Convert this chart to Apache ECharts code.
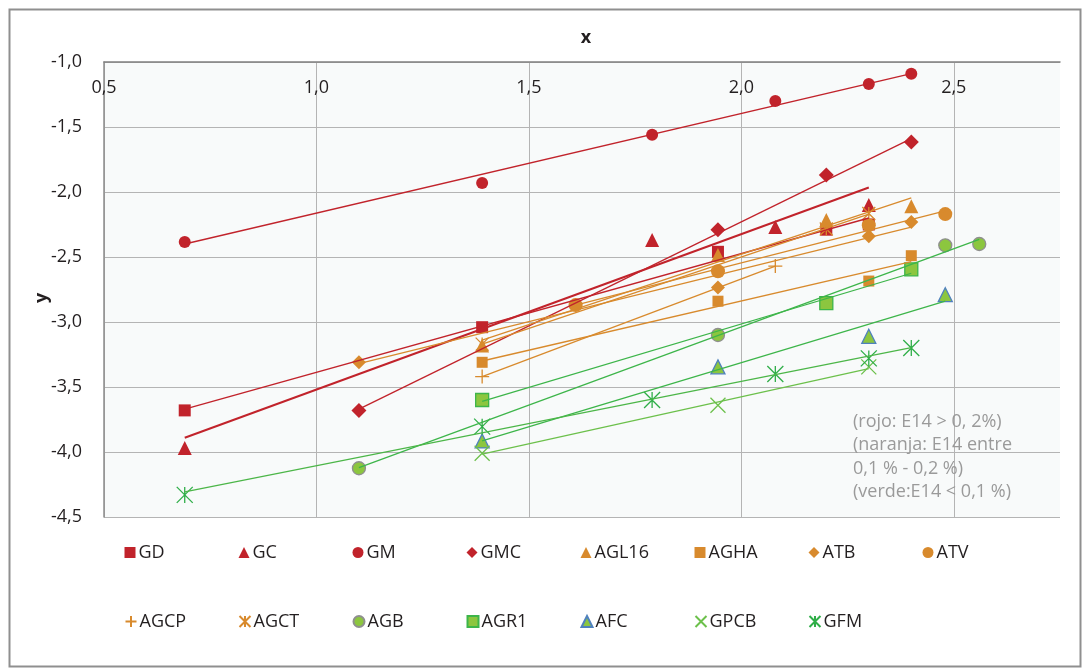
<!DOCTYPE html>
<html>
<head>
<meta charset="utf-8">
<script src="https://cdn.jsdelivr.net/npm/echarts@6/dist/echarts.min.js"></script>
<style>
  html, body { margin: 0; padding: 0; background: #ffffff; }
  #chart { width: 1086px; height: 671px; }
</style>
</head>
<body>
<div id="chart"></div>
<script>
// ---- tick labels ----
const xTickValues = [0.5, 1.0, 1.5, 2.0, 2.5];
const xTickLabels = ['0,5', '1,0', '1,5', '2,0', '2,5'];
const yTickValues = [-1.0, -1.5, -2.0, -2.5, -3.0, -3.5, -4.0, -4.5];
const yTickLabels = ['-1,0', '-1,5', '-2,0', '-2,5', '-3,0', '-3,5', '-4,0', '-4,5'];

// ---- series names (legend order) ----
const seriesNames = ['GD', 'GC', 'GM', 'GMC', 'AGL16', 'AGHA', 'ATB', 'ATV',
                     'AGCP', 'AGCT', 'AGB', 'AGR1', 'AFC', 'GPCB', 'GFM'];

// ---- data points [x, y] ----
const GD    = [[0.69, -3.68], [1.39, -3.04], [1.945, -2.46], [2.20, -2.29], [2.30, -2.25]];
const GC    = [[0.69, -3.97], [1.79, -2.37], [2.08, -2.27], [2.30, -2.10]];
const GM    = [[0.69, -2.385], [1.39, -1.93], [1.79, -1.56], [2.08, -1.30], [2.30, -1.17], [2.40, -1.09]];
const GMC   = [[1.10, -3.68], [1.945, -2.29], [2.20, -1.87], [2.40, -1.615]];
const AGL16 = [[1.39, -3.18], [1.945, -2.485], [2.20, -2.215], [2.40, -2.11]];
const AGHA  = [[1.39, -3.31], [1.945, -2.84], [2.30, -2.685], [2.40, -2.49]];
const ATB   = [[1.10, -3.31], [1.61, -2.87], [1.945, -2.735], [2.30, -2.34], [2.40, -2.23]];
const ATV   = [[1.61, -2.87], [1.945, -2.61], [2.30, -2.255], [2.48, -2.17]];
const AGCP  = [[1.39, -3.42], [2.08, -2.57]];
const AGCT  = [[1.39, -3.17], [2.20, -2.285], [2.30, -2.165]];
const AGB   = [[1.10, -4.125], [1.945, -3.10], [2.48, -2.41], [2.56, -2.40]];
const AGR1  = [[1.39, -3.60], [2.20, -2.855], [2.40, -2.595]];
const AFC   = [[1.39, -3.915], [1.945, -3.345], [2.30, -3.11], [2.48, -2.79]];
const GPCB  = [[1.39, -4.01], [1.945, -3.64], [2.30, -3.345]];
const GFM   = [[0.69, -4.33], [1.39, -3.805], [1.79, -3.60], [2.08, -3.40], [2.30, -3.28], [2.40, -3.20]];

// ---- trend line end points [x, y] ----
const GD_trend    = [[0.69, -3.67], [2.30, -2.20]];
const GC_trend    = [[0.69, -3.89], [2.30, -1.965]];
const GM_trend    = [[0.69, -2.40], [2.40, -1.09]];
const GMC_trend   = [[1.10, -3.67], [2.40, -1.59]];
const AGL16_trend = [[1.39, -3.14], [2.40, -2.045]];
const AGHA_trend  = [[1.39, -3.30], [2.40, -2.535]];
const ATB_trend   = [[1.10, -3.32], [2.40, -2.27]];
const ATV_trend   = [[1.61, -2.87], [2.48, -2.145]];
const AGCP_trend  = [[1.39, -3.42], [2.08, -2.57]];
const AGCT_trend  = [[1.39, -3.17], [2.30, -2.17]];
const AGB_trend   = [[1.10, -4.12], [2.56, -2.365]];
const AGR1_trend  = [[1.39, -3.61], [2.40, -2.625]];
const AFC_trend   = [[1.39, -3.915], [2.48, -2.84]];
const GPCB_trend  = [[1.39, -4.017], [2.30, -3.358]];
const GFM_trend   = [[0.69, -4.306], [2.40, -3.197]];

const pointData = { GD, GC, GM, GMC, AGL16, AGHA, ATB, ATV, AGCP, AGCT, AGB, AGR1, AFC, GPCB, GFM };
const trendData = {
  GD: GD_trend, GC: GC_trend, GM: GM_trend, GMC: GMC_trend, AGL16: AGL16_trend,
  AGHA: AGHA_trend, ATB: ATB_trend, ATV: ATV_trend, AGCP: AGCP_trend, AGCT: AGCT_trend,
  AGB: AGB_trend, AGR1: AGR1_trend, AFC: AFC_trend, GPCB: GPCB_trend, GFM: GFM_trend
};

// ---- styles ----
const RED = '#c1232b';
const ORANGE = '#d88a2d';
const GREEN = '#3db54a';
const LGREEN = '#6cc04b';
const FILLG = '#8cc63f';

const PLUS = 'path://M0,10L20,10M10,0L10,20';
const CROSS = 'path://M0,0L20,20M20,0L0,20';
const STAR = 'path://M0,0L20,20M20,0L0,20M10,0L10,20';

const styles = {
  GD:    { symbol: 'rect', size: 12, item: { color: RED }, line: RED, lw: 1.3 },
  GC:    { symbol: 'triangle', size: 14, item: { color: RED }, line: RED, lw: 2 },
  GM:    { symbol: 'circle', size: 12, item: { color: RED }, line: RED, lw: 1.3 },
  GMC:   { symbol: 'diamond', size: 15, item: { color: RED }, line: RED, lw: 1.3 },
  AGL16: { symbol: 'triangle', size: 14, item: { color: ORANGE }, line: ORANGE, lw: 1.3 },
  AGHA:  { symbol: 'rect', size: 11, item: { color: ORANGE }, line: ORANGE, lw: 1.3 },
  ATB:   { symbol: 'diamond', size: 14, item: { color: ORANGE }, line: ORANGE, lw: 1.3 },
  ATV:   { symbol: 'circle', size: 14, item: { color: ORANGE }, line: ORANGE, lw: 1.3 },
  AGCP:  { symbol: PLUS, size: 14, item: { color: ORANGE, borderColor: ORANGE, borderWidth: 1.3 }, line: ORANGE, lw: 1.3 },
  AGCT:  { symbol: STAR, size: 13, item: { color: ORANGE, borderColor: ORANGE, borderWidth: 1.3 }, line: ORANGE, lw: 1.3 },
  AGB:   { symbol: 'circle', size: 13, item: { color: FILLG, borderColor: '#8f8f8f', borderWidth: 1.3 }, line: GREEN, lw: 1.3 },
  AGR1:  { symbol: 'rect', size: 13, item: { color: FILLG, borderColor: GREEN, borderWidth: 1.3 }, line: GREEN, lw: 1.3 },
  AFC:   { symbol: 'triangle', size: 14, item: { color: FILLG, borderColor: '#4f81bd', borderWidth: 1.3 }, line: GREEN, lw: 1.3 },
  GPCB:  { symbol: CROSS, size: 15, item: { color: LGREEN, borderColor: LGREEN, borderWidth: 1.3 }, line: LGREEN, lw: 1.3 },
  GFM:   { symbol: STAR, size: 16, item: { color: '#2fae48', borderColor: '#2fae48', borderWidth: 1.3 }, line: '#4cb648', lw: 1.3 }
};

const FONT = '"Open Sans", "Noto Sans", sans-serif';

const series = [];
seriesNames.forEach(function (n) {
  const s = styles[n];
  series.push({
    name: n, type: 'scatter', data: pointData[n],
    symbol: s.symbol, symbolSize: s.size,
    itemStyle: Object.assign({ opacity: 1 }, s.item),
    z: 2, emphasis: { disabled: true }
  });
});
seriesNames.forEach(function (n) {
  const s = styles[n];
  series.push({
    name: n + ' (tendencia)', type: 'line', data: trendData[n],
    showSymbol: false, symbol: 'none', silent: true,
    lineStyle: { color: s.line, width: s.lw },
    z: 3, animation: false
  });
});

// legend: one component per entry so columns line up like the original
const legendCols = 8, colStep = 114, legendLeft0 = 124.5, rowTops = [543.5, 612.5];
const legends = seriesNames.map(function (n, i) {
  const row = Math.floor(i / legendCols), col = i % legendCols;
  return {
    data: [n], left: legendLeft0 + col * colStep, top: rowTops[row],
    padding: 0, itemWidth: 11, itemHeight: 11, itemGap: 0, selectedMode: false,
    textStyle: { fontFamily: FONT, fontSize: 18, color: '#231f20', padding: [0, 0, 0, -2] }
  };
});

function lookup(values, labels, v) {
  for (let i = 0; i < values.length; i++) {
    if (Math.abs(values[i] - v) < 1e-6) return labels[i];
  }
  return '';
}

const chart = echarts.init(document.getElementById('chart'), null, { renderer: 'canvas' });
chart.setOption({
  animation: false,
  backgroundColor: '#ffffff',
  grid: {
    left: 104, top: 62, right: 26, bottom: 154,
    show: true, backgroundColor: '#f8fafa', borderWidth: 0
  },
  legend: legends,
  xAxis: {
    type: 'value', position: 'top', min: 0.5, max: 2.75, interval: 0.5,
    axisLine: { show: true, onZero: false, lineStyle: { color: '#808080', width: 1.5 } },
    axisTick: { show: false },
    axisLabel: {
      inside: true, margin: 17, fontFamily: FONT, fontSize: 18, color: '#231f20',
      showMaxLabel: false,
      formatter: function (v) { return lookup(xTickValues, xTickLabels, v); }
    },
    splitLine: { show: true, showMaxLine: false, lineStyle: { color: '#b4b4b4', width: 1 } }
  },
  yAxis: {
    type: 'value', min: -4.5, max: -1.0, interval: 0.5,
    axisLine: { show: true, onZero: false, lineStyle: { color: '#8c8c8c', width: 1.5 } },
    axisTick: { show: false },
    axisLabel: {
      margin: 22, fontFamily: FONT, fontSize: 18, color: '#231f20',
      formatter: function (v) { return lookup(yTickValues, yTickLabels, v); }
    },
    splitLine: { show: true, lineStyle: { color: '#b4b4b4', width: 1 } }
  },
  graphic: [
    {
      type: 'rect', left: 7, top: 7, silent: true, z: -1,
      shape: { width: 1071, height: 657 },
      style: { fill: 'none', stroke: '#8f8f8f', lineWidth: 2 }
    },
    {
      type: 'text', x: 586, y: 38, silent: true,
      style: { text: 'x', fontFamily: FONT, fontSize: 18, fontWeight: 'bold', fill: '#231f20',
               align: 'center', verticalAlign: 'middle' }
    },
    {
      type: 'text', x: 42, y: 298, rotation: Math.PI / 2, silent: true,
      style: { text: 'y', fontFamily: FONT, fontSize: 18, fontWeight: 'bold', fill: '#231f20',
               align: 'center', verticalAlign: 'middle' }
    },
    {
      type: 'text', left: 853, top: 410, silent: true, z: 10,
      style: {
        text: '(rojo: E14 > 0, 2%)\n(naranja: E14 entre\n0,1 % - 0,2 %)\n(verde:E14 < 0,1 %)',
        fontFamily: FONT, fontSize: 18, lineHeight: 23.5, fill: '#9a9a9a'
      }
    }
  ],
  series: series
});
</script>
</body>
</html>
